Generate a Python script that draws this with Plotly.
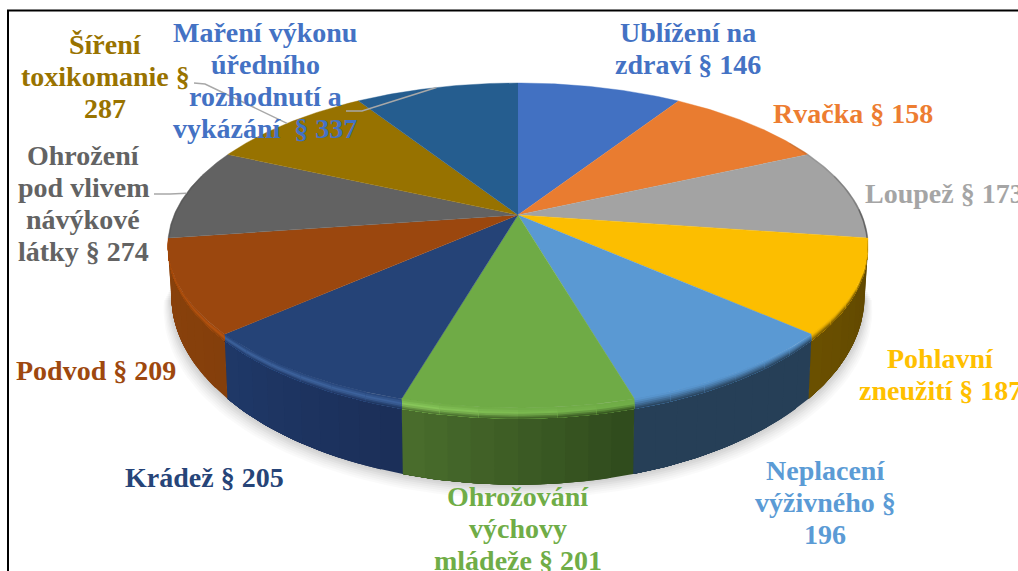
import numpy as np
import plotly.graph_objects as go

# ---- data ----
categories = ["Ublížení na zdraví § 146", "Rvačka § 158", "Loupež § 173", "Pohlavní zneužití § 187",
              "Neplacení výživného § 196", "Ohrožování výchovy mládeže § 201", "Krádež § 205",
              "Podvod § 209", "Ohrožení pod vlivem návykové látky § 274",
              "Šíření toxikomanie § 287", "Maření výkonu úředního rozhodnutí a vykázání § 337"]
slice_values = [32.7, 32.7, 32.8, 33.5, 32.2, 32.2, 32.2, 33.5, 32.8, 32.9, 32.5]
label_texts = ["Ublížení na<br>zdraví § 146", "Rvačka § 158", "Loupež § 173", "Pohlavní<br>zneužití § 187",
               "Neplacení<br>výživného §<br>196", "Ohrožování<br>výchovy<br>mládeže § 201", "Krádež § 205",
               "Podvod § 209", "Ohrožení<br>pod vlivem<br>návýkové<br>látky § 274",
               "Šíření<br>toxikomanie §<br>287", "Maření výkonu<br>úředního<br>rozhodnutí a<br>vykázání\u00a0\u00a0§ 337"]

# ---- style ----
top_colors = ["#4271c2", "#e97c30", "#a3a3a3", "#fcbe00", "#5a99d3", "#6fab46",
              "#254377", "#9b470e", "#626262", "#977200", "#255d8f"]
label_colors = ["#4472c4", "#ed7d31", "#a5a5a5", "#ffc000", "#5b9bd5", "#70ad47",
                "#264478", "#9e480e", "#636363", "#997300", "#4472c4"]
label_pos = [(688, 48, "center"), (853, 113, "center"), (863, 193, "left"), (940, 374, "center"),
             (825, 502, "center"), (518, 528, "center"), (204, 477, "center"), (96, 370, "center"),
             (83, 203, "center"), (105, 76, "center"), (265, 80, "center")]
LINE_H = 32
FONT_SIZE = 28
# wall colour at slice start / end, bevel highlight at slice start / end
rim_style = {
    3: ("#5e4600", "#6b5000", None, None),
    4: ("#263f57", "#263f57", None, None),
    5: ("#2f4a1c", "#4a6e2d", "#6fab46", "#8ccc5e"),
    6: ("#1b2f58", "#1f3868", "#3f659f", "#3f659f"),
    7: ("#843f0b", "#8a420c", "#b8540f", "#b8540f"),
}
leaders = {8: [(154, 194), (170, 194)], 9: [(194, 83), (205, 84)], 10: [(346, 111), (362, 111)]}
LEADER = "#a8a8a8"

cx, cy, A, B, k = 518.0, 215.0, 344.0, 156.8, 0.1877
Y0, B2, S = 260.0, 182.6, 0.99
BEVEL = 0.14


def top(t):
    w = 1 + k * np.cos(t)
    return cx + A * np.sin(t) / w, cy - B * np.cos(t) / w


def bot(t):
    w = 1 + k * np.cos(t)
    return cx + S * A * np.sin(t) / w, Y0 - B2 * np.cos(t) / w


def mix_pt(t, f):
    """f is a share of the bevel height; the bevel narrows toward the flanks."""
    x0, y0 = top(t)
    x1, y1 = bot(t)
    g = f * (0.3 + 0.7 * np.abs(np.cos(t)))
    return x0 + (x1 - x0) * g, y0 + (y1 - y0) * g


def rgb(h):
    return np.array([int(h[i:i + 2], 16) for i in (1, 3, 5)], float)


def mix(c1, c2, f):
    v = rgb(c1) * (1 - f) + rgb(c2) * f
    return "#%02x%02x%02x" % tuple(int(round(a)) for a in v)


fig = go.Figure()


def poly(xs, ys, color, lw=0.0):
    fig.add_trace(go.Scatter(x=list(xs), y=list(ys), mode="lines", fill="toself", fillcolor=color,
                             line=dict(color=color, width=lw), hoverinfo="skip", showlegend=False))


vals = np.array(slice_values, float)
edges = np.concatenate([[0], np.cumsum(vals) / vals.sum() * 2 * np.pi])

# soft shadow under the disc
ts = np.linspace(np.radians(98), np.radians(262), 80)
for d, a in zip([14, 12, 10, 8, 6, 4, 2], [0.018, 0.02, 0.025, 0.025, 0.03, 0.03, 0.03]):
    bx, by = bot(ts)
    bx = cx + (bx - cx) * (1 + d * 0.0016)
    poly(bx, by + d, "rgba(0,0,0,%.3f)" % a)

# side walls (each strip runs on to the slice end, so no seams show)
vis0, vis1 = np.radians(95), np.radians(265)
for i, (wc0, wc1, hl0, hl1) in rim_style.items():
    t0, t1 = max(edges[i], vis0), min(edges[i + 1], vis1)
    grid = np.linspace(t0, t1, 11)
    for j in range(10):
        sub = np.linspace(grid[j], t1, 24)
        x0, y0 = mix_pt(sub, BEVEL)
        x1, y1 = bot(sub)
        poly(np.r_[x0, x1[::-1]], np.r_[y0, y1[::-1]], mix(wc0, wc1, (j + .5) / 10))

# top face
for i, c in enumerate(top_colors):
    sub = np.linspace(edges[i], edges[i + 1], 60)
    x, y = top(sub)
    poly(np.r_[cx, x], np.r_[cy, y], c, lw=0.4)

# bevel between the top face and the wall
levels = np.array([0, .025, .05, .075, .1, .12])
for i, (wc0, wc1, hl0, hl1) in rim_style.items():
    t0, t1 = max(edges[i], vis0), min(edges[i + 1], vis1)
    grid = np.linspace(t0, t1, 7)
    for j in range(6):
        u = (j + .5) / 6
        sub = np.linspace(grid[j], t1, 24)
        wall = mix(wc0, wc1, u)
        for n in range(len(levels)):
            hi = levels[n + 1] if n + 1 < len(levels) else BEVEL
            f = (levels[n] + hi) / 2 / BEVEL
            if hl0 is None:
                col = mix(top_colors[i], wall, f ** 1.3)
            else:
                hl = mix(hl0, hl1, u)
                col = mix(top_colors[i], hl, f / .5) if f < .5 else mix(hl, wall, (f - .5) / .5)
            x0, y0 = mix_pt(sub, levels[n])
            x1, y1 = mix_pt(sub, BEVEL)
            poly(np.r_[x0, x1[::-1]], np.r_[y0, y1[::-1]], col)

# soft darker edge on the flank of the top face
for a0, a1, col in [(60, 75, "rgba(40,40,40,0.12)"), (75, 88, "rgba(40,40,40,0.28)"),
                    (88, 98.2, "rgba(40,40,40,0.5)"), (262, 285, "rgba(60,60,60,0.22)")]:
    sub = np.radians(np.linspace(a0, a1, 30))
    x, y = top(sub)
    fig.add_trace(go.Scatter(x=x - np.sign(np.sin(sub)) * 0.7, y=y, mode="lines", line=dict(color=col, width=1.6),
                             hoverinfo="skip", showlegend=False))

# leader lines, ending at the middle of their slice's arc
for i, pts in leaders.items():
    ex, ey = top((edges[i] + edges[i + 1]) / 2)
    fig.add_trace(go.Scatter(x=[p[0] for p in pts] + [ex], y=[p[1] for p in pts] + [ey], mode="lines",
                             line=dict(color=LEADER, width=1.5), hoverinfo="skip", showlegend=False))

annotations = []
for text, (x, y, anchor), color in zip(label_texts, label_pos, label_colors):
    lines = text.split("<br>")
    for n, line in enumerate(lines):
        annotations.append(dict(x=x, y=y + (n - (len(lines) - 1) / 2) * LINE_H, xref="x", yref="y",
                                text="<b>" + line + "</b>", showarrow=False, xanchor=anchor, yanchor="middle",
                                align="center", font=dict(family="Liberation Serif", size=FONT_SIZE, color=color)))

fig.update_layout(
    width=1018, height=571, margin=dict(l=0, r=0, t=0, b=0),
    paper_bgcolor="white", plot_bgcolor="rgba(0,0,0,0)", showlegend=False,
    xaxis=dict(range=[0, 1018], visible=False, fixedrange=True),
    yaxis=dict(range=[571, 0], visible=False, fixedrange=True),
    annotations=annotations,
    shapes=[dict(type="path", xref="x", yref="y", path="M 8 571 L 8 10.5 L 1018 10.5",
                 line=dict(color="black", width=2))],
)
fig.write_html("out.html", config=dict(displayModeBar=False),
               post_script="document.body.style.margin='0';document.body.style.overflow='hidden';")
